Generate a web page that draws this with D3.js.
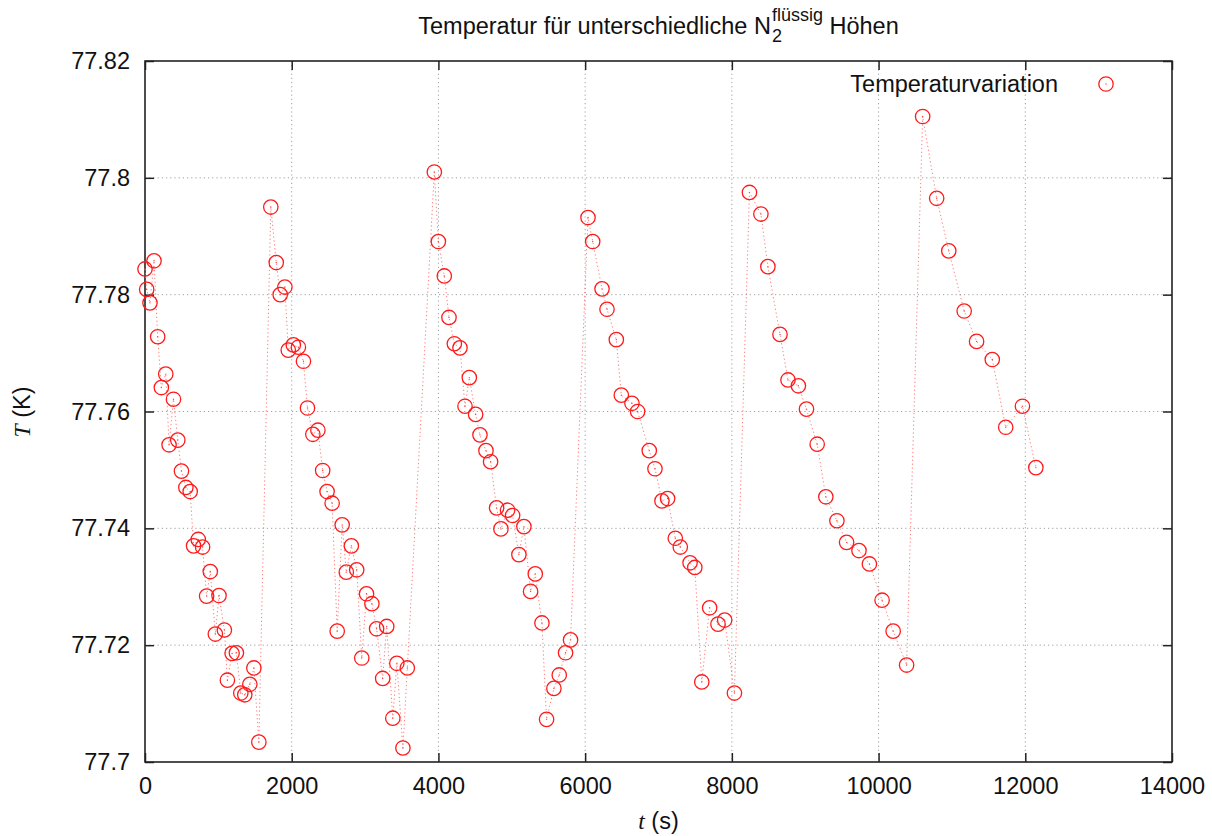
<!DOCTYPE html>
<html>
<head>
<meta charset="utf-8">
<script src="https://cdn.jsdelivr.net/npm/d3@7/dist/d3.min.js"></script>
<style>
  html, body { margin: 0; padding: 0; background: #fff; }
  svg { display: block; }
  text { font-family: "Liberation Sans", Arial, Helvetica, sans-serif; fill: #111; }
</style>
</head>
<body>
<svg id="chart" width="1212" height="836"></svg>
<script>
// Measurement time (s) and liquid-nitrogen temperature (K), in run order
const timeS = [
  0, 23, 68, 123, 173, 223, 283, 328, 388, 447, 497, 557, 616, 662, 726, 785, 840, 890, 959, 1009,
  1082, 1123, 1187, 1246, 1306, 1360, 1429, 1484, 1552,
  1715, 1789, 1843, 1907, 1953, 2022, 2091, 2160, 2215, 2288, 2357, 2422, 2482, 2551, 2620, 2688,
  2744, 2813, 2886, 2955, 3020, 3093, 3157, 3240, 3295, 3378, 3433, 3516, 3576,
  3944, 3999, 4080, 4144, 4217, 4294, 4362, 4421, 4507, 4566, 4648, 4711, 4793, 4852, 4943, 5011,
  5097, 5165, 5256, 5320, 5411, 5474, 5574, 5647, 5733, 5801,
  6039, 6103, 6230, 6298, 6425, 6493, 6638, 6715, 6874, 6952, 7047, 7124, 7229, 7297, 7430, 7495,
  7590, 7697, 7811, 7902, 8035,
  8240, 8396, 8491, 8656, 8765, 8907, 9017, 9163, 9281, 9432, 9564, 9733, 9875, 10048, 10199, 10382,
  10601, 10792, 10957, 11167, 11336, 11550, 11733, 11961, 12144
];
const tempK = [
  77.7844, 77.7809, 77.7786, 77.7858, 77.7728, 77.7641, 77.7664, 77.7543, 77.7621, 77.7551, 77.7498,
  77.7470, 77.7463, 77.7370, 77.7381, 77.7368, 77.7284, 77.7326, 77.7219, 77.7285, 77.7226, 77.7140,
  77.7186, 77.7187, 77.7118, 77.7115, 77.7133, 77.7161, 77.7034,
  77.7950, 77.7855, 77.7800, 77.7813, 77.7705, 77.7714, 77.7710, 77.7686, 77.7606, 77.7561, 77.7568,
  77.7499, 77.7463, 77.7443, 77.7224, 77.7406, 77.7325, 77.7370, 77.7329, 77.7178, 77.7288, 77.7271,
  77.7228, 77.7143, 77.7232, 77.7075, 77.7169, 77.7024, 77.7161,
  77.8010, 77.7891, 77.7832, 77.7761, 77.7716, 77.7709, 77.7609, 77.7658, 77.7595, 77.7560, 77.7533,
  77.7514, 77.7435, 77.7399, 77.7431, 77.7422, 77.7355, 77.7403, 77.7292, 77.7322, 77.7238, 77.7073,
  77.7126, 77.7149, 77.7187, 77.7209,
  77.7932, 77.7891, 77.7810, 77.7775, 77.7723, 77.7628, 77.7614, 77.7600, 77.7533, 77.7502, 77.7447,
  77.7451, 77.7383, 77.7368, 77.7341, 77.7333, 77.7137, 77.7264, 77.7236, 77.7243, 77.7118,
  77.7975, 77.7938, 77.7848, 77.7732, 77.7654, 77.7644, 77.7604, 77.7544, 77.7454, 77.7413, 77.7376,
  77.7362, 77.7339, 77.7277, 77.7224, 77.7166,
  77.8105, 77.7965, 77.7875, 77.7772, 77.7720, 77.7689, 77.7573, 77.7609, 77.7504
];

// Axis ticks
const xTicks = [0, 2000, 4000, 6000, 8000, 10000, 12000, 14000];
const yTicks = [77.70, 77.72, 77.74, 77.76, 77.78, 77.80, 77.82];

const seriesName = "Temperaturvariation";
const titleMain = "Temperatur für unterschiedliche N";
const titleSub = "2";
const titleSup = "flüssig";
const titleTail = " Höhen";

const svg = d3.select("#chart");
const W = 1212, H = 836;
const margin = { left: 145, right: W - 1172, top: 61, bottom: H - 762 };
const plotW = W - margin.left - margin.right;
const plotH = H - margin.top - margin.bottom;

const x = d3.scaleLinear().domain([0, 14000]).range([margin.left, margin.left + plotW]);
const y = d3.scaleLinear().domain([77.70, 77.82]).range([margin.top + plotH, margin.top]);

const fmtY = v => String(+v.toFixed(2));
const FONT = 23.5;
const TICK = 9;

// Grid (dotted)
const grid = svg.append("g").attr("class", "grid")
  .attr("stroke", "#a0a0a0").attr("stroke-width", 1).attr("stroke-dasharray", "1.2,3");
grid.selectAll("line.gx").data(xTicks.slice(1, -1)).join("line")
  .attr("x1", d => x(d)).attr("x2", d => x(d))
  .attr("y1", margin.top).attr("y2", margin.top + plotH);
grid.selectAll("line.gy").data(yTicks.slice(1, -1)).join("line")
  .attr("x1", margin.left).attr("x2", margin.left + plotW)
  .attr("y1", d => y(d)).attr("y2", d => y(d));

// Axes: inward ticks on bottom/left, mirrored on top/right
const axB = d3.axisBottom(x).tickValues(xTicks).tickSizeInner(-TICK).tickSizeOuter(0).tickPadding(15).tickFormat(d3.format("d"));
const axT = d3.axisTop(x).tickValues(xTicks).tickSizeInner(-TICK).tickSizeOuter(0).tickFormat("");
const axL = d3.axisLeft(y).tickValues(yTicks).tickSizeInner(-TICK).tickSizeOuter(0).tickPadding(15).tickFormat(fmtY);
const axR = d3.axisRight(y).tickValues(yTicks).tickSizeInner(-TICK).tickSizeOuter(0).tickFormat("");

function styleAxis(g) {
  g.select(".domain").remove();
  g.selectAll(".tick line").attr("stroke", "#222").attr("stroke-width", 1.5);
  g.selectAll(".tick text").attr("font-size", FONT).attr("fill", "#111")
    .attr("font-family", '"Liberation Sans", Arial, sans-serif');
}
svg.append("g").attr("transform", `translate(0,${margin.top + plotH})`).call(axB).call(styleAxis);
svg.append("g").attr("transform", `translate(0,${margin.top})`).call(axT).call(styleAxis);
svg.append("g").attr("transform", `translate(${margin.left},0)`).call(axL).call(styleAxis);
svg.append("g").attr("transform", `translate(${margin.left + plotW},0)`).call(axR).call(styleAxis);

// Frame
svg.append("rect")
  .attr("x", margin.left).attr("y", margin.top).attr("width", plotW).attr("height", plotH)
  .attr("fill", "none").attr("stroke", "#222").attr("stroke-width", 1.6);

// Series
const data = timeS.map((t, i) => ({ t, v: tempK[i] }));
const line = d3.line().x(d => x(d.t)).y(d => y(d.v));
svg.append("path").datum(data)
  .attr("d", line).attr("fill", "none")
  .attr("stroke", "#ff6a6a").attr("stroke-width", 1).attr("stroke-dasharray", "1.3,2.6")
  .attr("opacity", 0.85);

const pts = svg.append("g");
function marker(g, cx, cy) {
  g.append("circle").attr("cx", cx).attr("cy", cy).attr("r", 7.2)
    .attr("fill", "none").attr("stroke", "#ff1a1a").attr("stroke-width", 1.3);
  g.append("circle").attr("cx", cx).attr("cy", cy).attr("r", 0.7).attr("fill", "#ff4040");
}
data.forEach(d => marker(pts, x(d.t), y(d.v)));

// Legend
svg.append("text").attr("x", 1058).attr("y", 92).attr("text-anchor", "end")
  .attr("font-size", FONT).text(seriesName);
marker(svg.append("g"), 1106, 84);

// Axis labels
const yl = svg.append("text").attr("transform", "translate(30,412) rotate(-90)")
  .attr("text-anchor", "middle").attr("font-size", FONT);
yl.append("tspan").attr("font-family", '"Liberation Serif", "Times New Roman", serif')
  .attr("font-style", "italic").text("T");
yl.append("tspan").text(" (K)");

const xl = svg.append("text").attr("x", margin.left + plotW / 2).attr("y", 829)
  .attr("text-anchor", "middle").attr("font-size", FONT);
xl.append("tspan").attr("font-family", '"Liberation Serif", "Times New Roman", serif')
  .attr("font-style", "italic").text("t");
xl.append("tspan").text(" (s)");

// Title with stacked sub-/superscript
const TF = 23.5, SF = 18;
const tg = svg.append("g");
const base = 34;
const t1 = tg.append("text").attr("x", 0).attr("y", base).attr("font-size", TF).text(titleMain);
const w1 = t1.node().getComputedTextLength();
const ts = tg.append("text").attr("x", w1 + 1).attr("y", base + 8).attr("font-size", SF).text(titleSub);
const tp = tg.append("text").attr("x", w1 + 1).attr("y", base - 13).attr("font-size", SF).text(titleSup);
const ws = Math.max(ts.node().getComputedTextLength(), tp.node().getComputedTextLength());
const t3 = tg.append("text").attr("x", w1 + 1 + ws).attr("y", base).attr("font-size", TF)
  .attr("xml:space", "preserve").style("white-space", "pre").text(titleTail);
const total = w1 + 1 + ws + t3.node().getComputedTextLength();
tg.attr("transform", `translate(${(margin.left + plotW / 2) - total / 2},0)`);
</script>
</body>
</html>
